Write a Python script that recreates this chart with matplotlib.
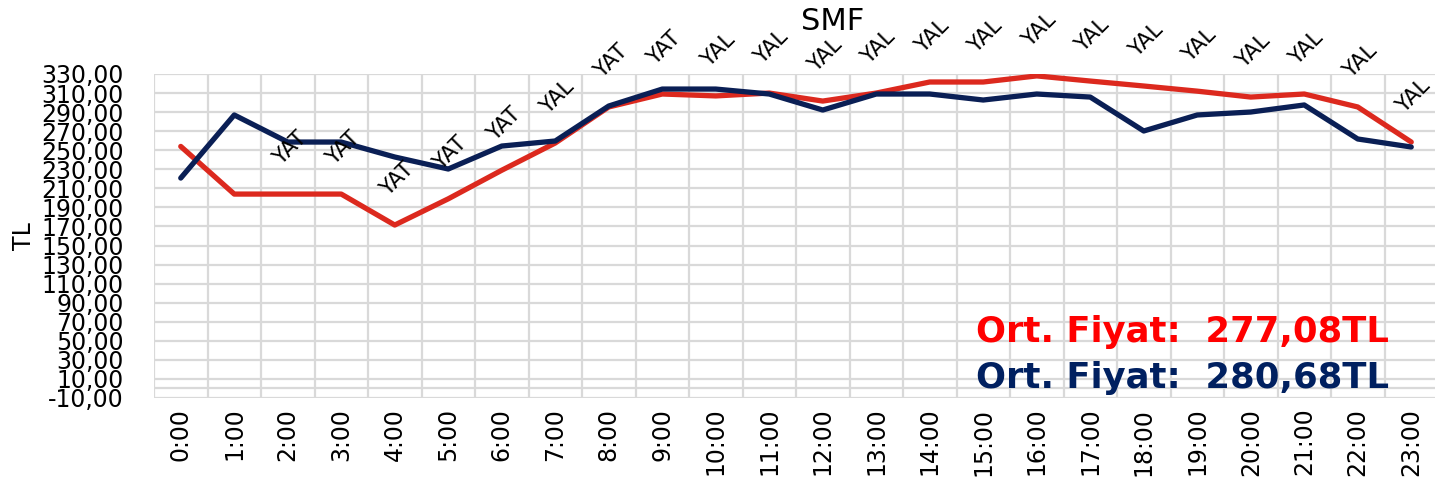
import matplotlib
matplotlib.use("Agg")
import matplotlib.pyplot as plt

# data
hours = [f"{h}:00" for h in range(24)]
red_prices = [254, 204, 204, 204, 171.5, 199, 229, 257.6, 295.4, 309, 307, 310,
              301.6, 310, 321.6, 321.6, 328, 322.6, 317.4, 312, 305.8, 309, 295.4, 258.6]
navy_prices = [220.8, 287, 258.6, 258.6, 242.9, 230.3, 254.4, 259.7, 296.4, 314.2, 314.2, 309,
               292.2, 309, 309, 302.7, 309, 305.8, 270.2, 287, 290.1, 297.5, 261.8, 253.4]
directions = ["", "", "YAT", "YAT", "YAT", "YAT", "YAT", "YAL", "YAT", "YAT", "YAL", "YAL",
              "YAL", "YAL", "YAL", "YAL", "YAL", "YAL", "YAL", "YAL", "YAL", "YAL", "YAL", "YAL"]
y_ticks = list(range(-10, 331, 20))
red_avg = "277,08"
navy_avg = "280,68"

RED = "#DC291E"
NAVY = "#0A1F55"
GRID = "#D9D9D9"

plt.rcParams['font.family'] = 'DejaVu Sans'

W, H = 1435, 484
fig = plt.figure(figsize=(W / 100, H / 100), dpi=100)
ax = fig.add_axes([154 / W, (H - 398) / H, 1284 / W, 324 / H])

x = list(range(len(hours)))
ax.plot(x, red_prices, color=RED, lw=3.8, solid_capstyle='round', solid_joinstyle='round', zorder=3)
ax.plot(x, navy_prices, color=NAVY, lw=3.8, solid_capstyle='round', solid_joinstyle='round', zorder=4)

# direction labels sit above the red series
for xi, yi, lab in zip(x, red_prices, directions):
    if lab:
        ax.annotate(lab, (xi, yi), xytext=(1.5, 33), textcoords='offset points',
                    rotation=45, ha='center', va='center', fontsize=15.5,
                    annotation_clip=False, zorder=5)

ax.set_xlim(-0.5, 23.5)
ax.set_ylim(-10, 330)
ax.set_yticks(y_ticks)
ax.set_yticklabels([f"{v},00" for v in y_ticks])
ax.set_xticks(x)
ax.set_xticklabels(hours, rotation=90)
ax.tick_params(axis='both', length=0, labelsize=17)
ax.tick_params(axis='y', pad=22)
ax.tick_params(axis='x', pad=7)

# grid: horizontal at ticks, vertical at category boundaries
for v in y_ticks:
    ax.axhline(v, color=GRID, lw=1.6, zorder=1)
ax.axhline(0, color=GRID, lw=1.6, zorder=1)
for b in range(25):
    ax.axvline(b - 0.5, color=GRID, lw=1.6, zorder=1)
for s in ax.spines.values():
    s.set_visible(False)

ax.set_ylabel("TL", fontsize=17)
ax.yaxis.set_label_coords(-0.092, 0.5)

fig.text(833 / W, 1 - 22 / H, "SMF", fontsize=22, ha='center', va='center')

fig.text(976 / W, 1 - 332 / H, f"Ort. Fiyat:  {red_avg}TL", color="#FF0000",
         fontsize=25.5, fontweight='bold', ha='left', va='center')
fig.text(976 / W, 1 - 378 / H, f"Ort. Fiyat:  {navy_avg}TL", color="#002060",
         fontsize=25.5, fontweight='bold', ha='left', va='center')

fig.savefig("out.png", dpi=100)
